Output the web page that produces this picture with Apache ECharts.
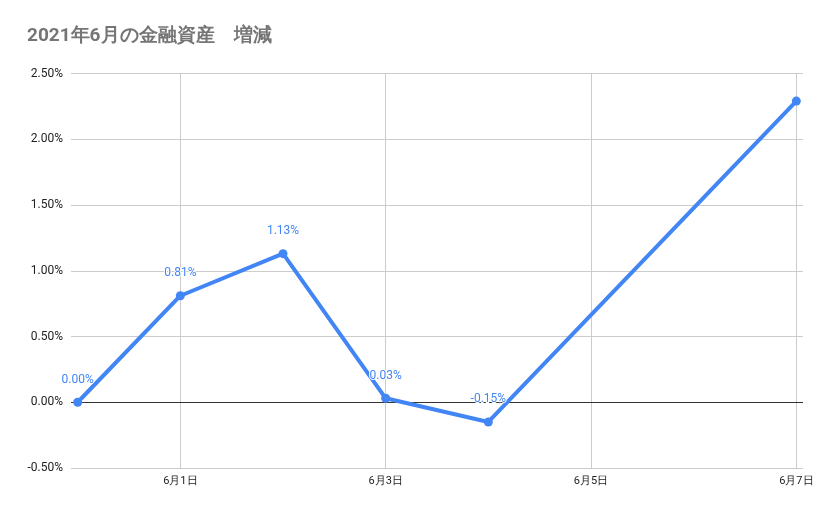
<!DOCTYPE html>
<html><head><meta charset="utf-8">
<script src="https://cdn.jsdelivr.net/npm/echarts@6/dist/echarts.min.js"></script>
<style>html,body{margin:0;padding:0;background:#fff}#c{width:829px;height:514px}</style>
</head><body><div id="c"></div>
<script>
// day index 0 = 5/31
const dayIndex = [0, 1, 2, 3, 4, 7];
const values = [0.00, 0.81, 1.13, 0.03, -0.15, 2.29];
const showLabel = [true, true, true, true, true, false];
const xTickDays = [1, 3, 5, 7];
const xTickLabels = ['6月1日', '6月3日', '6月5日', '6月7日'];
const yTicks = [-0.5, 0, 0.5, 1.0, 1.5, 2.0, 2.5];

const chart = echarts.init(document.getElementById('c'));
const font = 'Roboto, Arial, sans-serif';
chart.setOption({
  animation: false,
  title: {
    text: '2021年6月の金融資産　増減',
    left: 22, top: 22,
    textStyle: {fontSize: 19, fontWeight: 'bold', color: '#757575', fontFamily: font}
  },
  grid: {left: 71, right: 26, top: 73.5, bottom: 46},
  xAxis: {
    type: 'value', min: -0.065, max: 7.065,
    axisLine: {show: false}, axisTick: {show: false},
    splitLine: {show: false},
    axisLabel: {
      customValues: xTickDays,
      formatter: v => xTickLabels[xTickDays.indexOf(v)] || '',
      color: '#222', fontSize: 11, fontFamily: font, margin: 8
    }
  },
  yAxis: {
    type: 'value', min: yTicks[0], max: yTicks[yTicks.length - 1], interval: 0.5,
    axisLine: {show: false}, axisTick: {show: false},
    splitLine: {lineStyle: {color: '#cccccc', width: 1}},
    axisLabel: {formatter: v => v.toFixed(2) + '%', color: '#222', fontSize: 12, fontFamily: font, margin: 8}
  },
  series: [
    {
      type: 'line', silent: true, data: [], 
      markLine: {
        symbol: 'none', silent: true, label: {show: false},
        lineStyle: {color: '#cccccc', width: 1, type: 'solid'},
        data: xTickDays.map(d => ({xAxis: d}))
      }
    },
    {
      type: 'line', silent: true, data: [],
      markLine: {
        symbol: 'none', silent: true, label: {show: false},
        lineStyle: {color: '#333333', width: 1, type: 'solid'},
        data: [{yAxis: 0}]
      }
    },
    {
      type: 'line',
      data: dayIndex.map((d, i) => ({
        value: [d, values[i]],
        label: {show: showLabel[i]}
      })),
      lineStyle: {color: '#4285f4', width: 4},
      itemStyle: {color: '#4285f4'},
      symbol: 'circle', symbolSize: 9, showSymbol: true,
      label: {
        position: 'top', distance: 12,
        formatter: p => p.value[1].toFixed(2) + '%',
        color: '#4285f4', fontSize: 12, fontFamily: font,
        textBorderColor: '#fff', textBorderWidth: 2
      },
      z: 5
    }
  ]
});
</script></body></html>
